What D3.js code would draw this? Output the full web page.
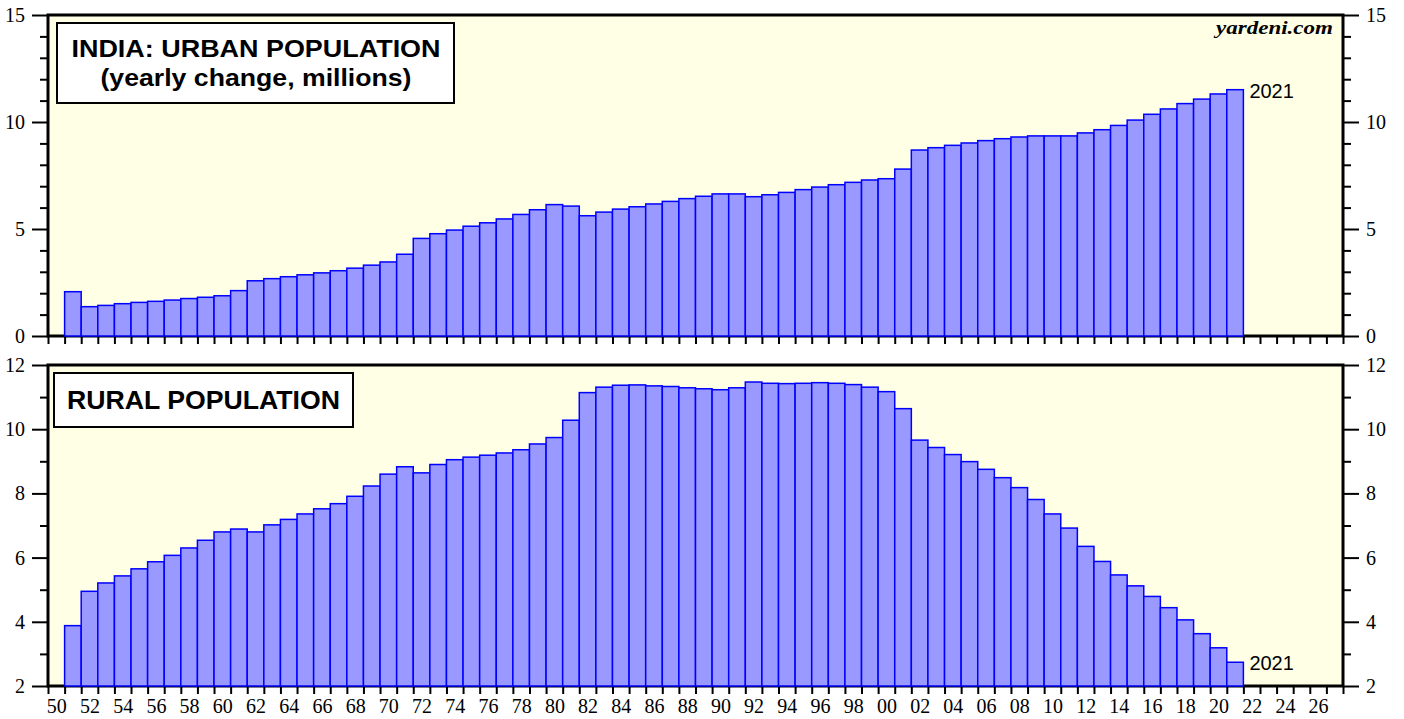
<!DOCTYPE html>
<html>
<head>
<meta charset="utf-8">
<script src="https://cdn.jsdelivr.net/npm/d3@7"></script>
<style>
  html, body { margin: 0; padding: 0; background: #ffffff; }
  svg { display: block; }
</style>
</head>
<body>
<svg id="chart" width="1404" height="719"></svg>
<script>
// ---- DATA ----
const years = d3.range(1951, 2022);
const urbanChange = [
  2.07, 1.37, 1.43, 1.51, 1.57, 1.62, 1.68, 1.75, 1.81, 1.88,
  2.12, 2.58, 2.68, 2.77, 2.86, 2.95, 3.05, 3.17, 3.31, 3.46,
  3.82, 4.56, 4.78, 4.95, 5.13, 5.29, 5.47, 5.68, 5.90, 6.14,
  6.07, 5.62, 5.79, 5.93, 6.04, 6.17, 6.29, 6.42, 6.53, 6.64,
  6.64, 6.51, 6.60, 6.71, 6.84, 6.96, 7.07, 7.18, 7.29, 7.35,
  7.80, 8.69, 8.80, 8.91, 9.02, 9.13, 9.22, 9.30, 9.35, 9.35,
  9.35, 9.49, 9.64, 9.84, 10.09, 10.36, 10.61, 10.86, 11.07, 11.31, 11.51
];
const ruralChange = [
  3.88, 4.95, 5.21, 5.43, 5.65, 5.87, 6.07, 6.30, 6.54, 6.80,
  6.89, 6.80, 7.02, 7.19, 7.36, 7.52, 7.68, 7.91, 8.23, 8.60,
  8.83, 8.64, 8.90, 9.05, 9.13, 9.19, 9.26, 9.36, 9.54, 9.74,
  10.28, 11.14, 11.31, 11.37, 11.38, 11.35, 11.33, 11.29, 11.26, 11.23,
  11.29, 11.47, 11.43, 11.42, 11.43, 11.45, 11.43, 11.39, 11.31, 11.17,
  10.64, 9.66, 9.43, 9.21, 8.99, 8.75, 8.49, 8.18, 7.81, 7.36,
  6.92, 6.35, 5.88, 5.46, 5.12, 4.79, 4.44, 4.06, 3.63, 3.19, 2.74
];
const xDomain = [1950, 2028];
const xTickYears = d3.range(1950, 2029);
const xLabelYears = d3.range(1950, 2027, 2);
const urbanMajorTicks = [0, 5, 10, 15];
const urbanMinorTicks = d3.range(0, 16).filter(v => v % 5 !== 0);
const ruralMajorTicks = [2, 4, 6, 8, 10, 12];
const ruralMinorTicks = [3, 5, 7, 9, 11];
const lastLabel = "2021";

// ---- LAYOUT ----
const L = 48, R = 1343;
const panels = [
  { top: 15, bottom: 336, domain: [0, 15], data: urbanChange, major: urbanMajorTicks, minor: urbanMinorTicks, labels: false },
  { top: 365, bottom: 686, domain: [2, 12], data: ruralChange, major: ruralMajorTicks, minor: ruralMinorTicks, labels: true }
];

const svg = d3.select("#chart");
const x = d3.scaleLinear().domain(xDomain).range([L, R]);

const serif = "'Liberation Serif', 'Times New Roman', serif";
const sans = "Arial, 'Liberation Sans', sans-serif";

panels.forEach((p, i) => {
  const y = d3.scaleLinear().domain(p.domain).range([p.bottom, p.top]);
  p.y = y;
  const g = svg.append("g");

  // background
  g.append("rect").attr("x", L).attr("y", p.top).attr("width", R - L).attr("height", p.bottom - p.top)
    .attr("fill", "#ffffe6");

  // frame
  g.append("rect").attr("x", L).attr("y", p.top).attr("width", R - L).attr("height", p.bottom - p.top)
    .attr("fill", "none").attr("stroke", "#000").attr("stroke-width", 3);

  // y axes: left & right, major and minor
  const styleAxis = sel => {
    sel.select(".domain").remove();
    sel.selectAll(".tick line").attr("stroke", "#000").attr("stroke-width", 2);
    sel.selectAll(".tick text").attr("font-family", serif).attr("font-size", 20).attr("fill", "#000");
  };
  g.append("g").attr("transform", `translate(${L},0)`)
    .call(d3.axisLeft(y).tickValues(p.major).tickSize(16).tickPadding(7).tickFormat(d3.format("d")))
    .call(styleAxis);
  g.append("g").attr("transform", `translate(${L},0)`)
    .call(d3.axisLeft(y).tickValues(p.minor).tickSize(8).tickFormat(""))
    .call(styleAxis);
  g.append("g").attr("transform", `translate(${R},0)`)
    .call(d3.axisRight(y).tickValues(p.major).tickSize(16).tickPadding(7).tickFormat(d3.format("d")))
    .call(styleAxis);
  g.append("g").attr("transform", `translate(${R},0)`)
    .call(d3.axisRight(y).tickValues(p.minor).tickSize(8).tickFormat(""))
    .call(styleAxis);

  // x ticks
  g.append("g").attr("transform", `translate(0,${p.bottom})`)
    .call(d3.axisBottom(x).tickValues(xTickYears).tickSize(8).tickFormat(""))
    .call(styleAxis);

  if (p.labels) {
    g.append("g").attr("transform", `translate(0,${p.bottom})`)
      .call(d3.axisBottom(x).tickValues(xLabelYears.map(v => v + 0.5)).tickSize(0).tickPadding(13)
        .tickFormat(d => String(Math.floor(d) % 100).padStart(2, "0")))
      .call(styleAxis);
  }

  // bars
  g.append("g").selectAll("rect").data(p.data).join("rect")
    .attr("x", (d, k) => x(years[k]))
    .attr("width", (d, k) => x(years[k] + 1) - x(years[k]))
    .attr("y", d => y(d))
    .attr("height", d => y(p.domain[0]) - y(d))
    .attr("fill", "#9999ff")
    .attr("stroke", "#0000ff")
    .attr("stroke-width", 1.5);

  // last-value label
  const lastIdx = p.data.length - 1;
  g.append("text")
    .attr("x", x(years[lastIdx] + 1) + 6)
    .attr("y", y(p.data[lastIdx]) + 8)
    .attr("font-family", sans).attr("font-size", 20).attr("fill", "#000")
    .text(lastLabel);
});

// Title boxes
const t1 = svg.append("g");
t1.append("rect").attr("x", 57).attr("y", 23).attr("width", 397).attr("height", 80)
  .attr("fill", "#fff").attr("stroke", "#000").attr("stroke-width", 2);
t1.append("text").attr("x", 256).attr("y", 57).attr("text-anchor", "middle")
  .attr("font-family", sans).attr("font-weight", "bold").attr("font-size", 24)
  .attr("textLength", 369).attr("lengthAdjust", "spacingAndGlyphs")
  .text("INDIA: URBAN POPULATION");
t1.append("text").attr("x", 256).attr("y", 86).attr("text-anchor", "middle")
  .attr("font-family", sans).attr("font-weight", "bold").attr("font-size", 24)
  .attr("textLength", 311).attr("lengthAdjust", "spacingAndGlyphs")
  .text("(yearly change, millions)");

const t2 = svg.append("g");
t2.append("rect").attr("x", 54).attr("y", 373).attr("width", 299).attr("height", 54)
  .attr("fill", "#fff").attr("stroke", "#000").attr("stroke-width", 2);
t2.append("text").attr("x", 203.5).attr("y", 409).attr("text-anchor", "middle")
  .attr("font-family", sans).attr("font-weight", "bold").attr("font-size", 26)
  .attr("textLength", 273).attr("lengthAdjust", "spacingAndGlyphs")
  .text("RURAL POPULATION");

// source
svg.append("text").attr("x", 1333).attr("y", 34).attr("text-anchor", "end")
  .attr("font-family", serif).attr("font-weight", "bold").attr("font-style", "italic").attr("font-size", 18)
  .attr("textLength", 117).attr("lengthAdjust", "spacingAndGlyphs")
  .text("yardeni.com");
</script>
</body>
</html>
